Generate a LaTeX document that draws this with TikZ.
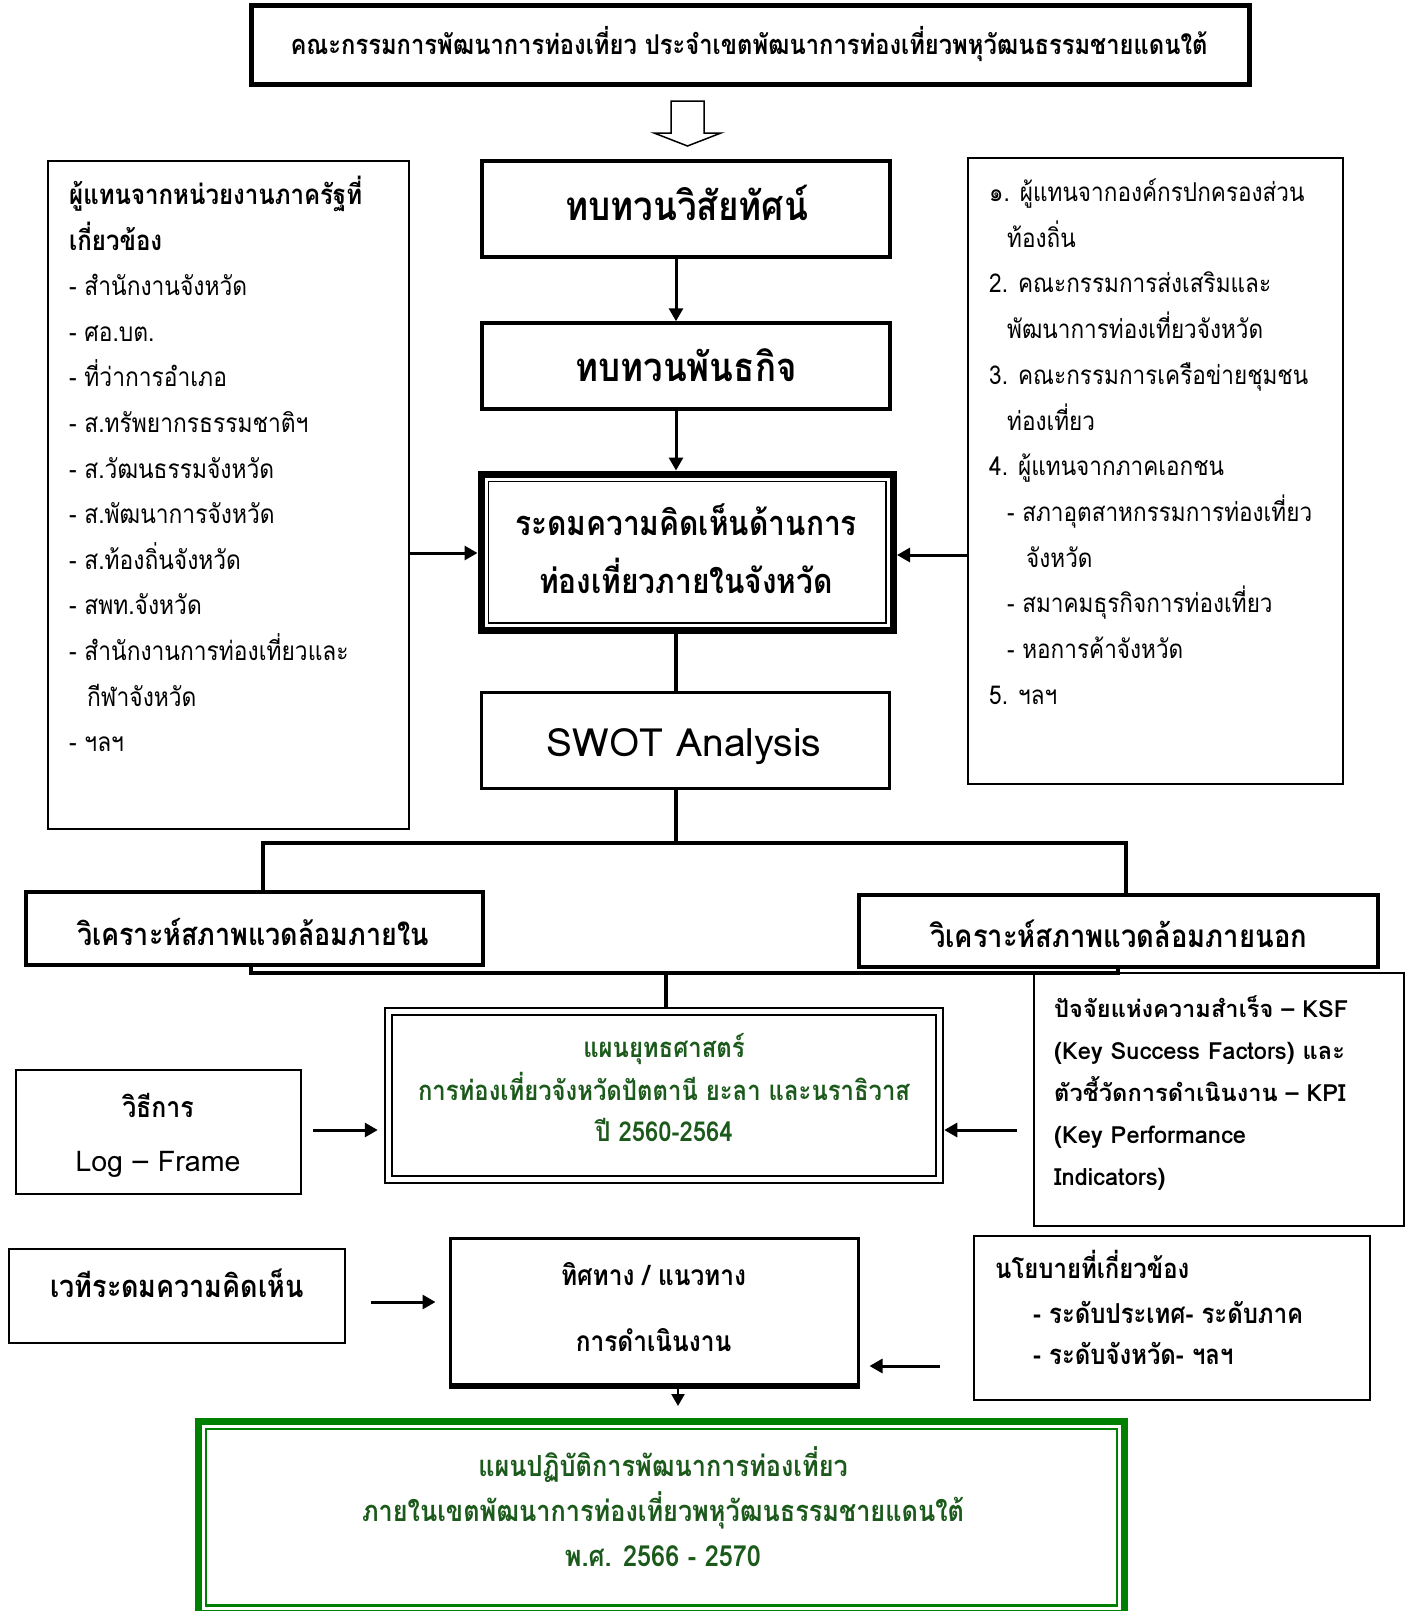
\documentclass[tikz,border=0pt]{standalone}
\usepackage{fontspec}
\setmainfont[Script=Thai, FakeStretch=0.87]{Loma}
\newfontfamily\latinf[Script=Thai]{Loma}
\usetikzlibrary{arrows.meta,calc}
\definecolor{gtext}{RGB}{28,90,28}
\definecolor{gline}{RGB}{0,128,0}
\newlength\fitlen
\newcommand\fitfs[3]{\settowidth\fitlen{\fontsize{10pt}{12pt}\selectfont #3}\pgfmathsetmacro#1{10*#2/\fitlen}}
\newcommand\setfs[1]{\fontsize{#1pt}{#1pt}\selectfont}
\begin{document}
% font sizes fitted to reference widths
\fitfs\fsTitle{917}{\bfseries คณะกรรมการพัฒนาการท่องเที่ยว ประจำเขตพัฒนาการท่องเที่ยวพหุวัฒนธรรมชายแดนใต้}%
\fitfs\fsVis{243}{\bfseries ทบทวนวิสัยทัศน์}%
\fitfs\fsMis{221}{\bfseries ทบทวนพันธกิจ}%
\fitfs\fsBrain{342}{\bfseries ระดมความคิดเห็นด้านการ}%
\fitfs\fsSwot{275}{\latinf SWOT Analysis}%
\fitfs\fsIn{352}{\bfseries วิเคราะห์สภาพแวดล้อมภายใน}%
\fitfs\fsOut{377}{\bfseries วิเคราะห์สภาพแวดล้อมภายนอก}%
\fitfs\fsPlan{492}{\bfseries การท่องเที่ยวจังหวัดปัตตานี ยะลา และนราธิวาส}%
\fitfs\fsLog{165}{\latinf Log – Frame}%
\fitfs\fsKsf{294}{\latinf\bfseries ปัจจัยแห่งความสำเร็จ – KSF}%
\fitfs\fsForum{253}{\bfseries เวทีระดมความคิดเห็น}%
\fitfs\fsDir{185}{\bfseries ทิศทาง / แนวทาง}%
\fitfs\fsPol{270}{\bfseries - ระดับประเทศ- ระดับภาค}%
\fitfs\fsFin{602}{\bfseries ภายในเขตพัฒนาการท่องเที่ยวพหุวัฒนธรรมชายแดนใต้}%
\fitfs\fsL{178}{- สำนักงานจังหวัด}%
\fitfs\fsLh{293}{\bfseries ผู้แทนจากหน่วยงานภาครัฐที่}%
\fitfs\fsR{282}{2. คณะกรรมการส่งเสริมและ}%
\begin{tikzpicture}[x=1pt,y=-1pt,
  box/.style={draw, line width=2.5pt, inner sep=0pt},
  arr/.style={line width=3pt, -{Triangle[length=13pt,width=14pt]}},
  ln/.style={line width=3.5pt},
  txt/.style={inner sep=0pt, anchor=base},
  ltxt/.style={inner sep=0pt, anchor=base west}]
\fill[white] (0,0) rectangle (1413,1611);
\useasboundingbox (0,0) rectangle (1413,1611);

% ---------- boxes ----------
\node[box, line width=5pt, minimum width=998pt, minimum height=78pt] (title) at (750,45) {};
\node[box, line width=3.5pt, minimum width=408pt, minimum height=96pt] (vis) at (686,209) {};
\node[box, line width=3.5pt, minimum width=408pt, minimum height=86pt] (mis) at (686,366) {};
\node[box, line width=7pt, minimum width=412.5pt, minimum height=156.5pt] (brain) at (687.25,552.25) {};
\node[box, line width=1.5pt, minimum width=397.5pt, minimum height=141.5pt] (brainIn) at (687.25,552.25) {};
\node[box, line width=3pt, minimum width=408pt, minimum height=96pt] (swot) at (685,740) {};
\node[box, line width=2pt, minimum width=361pt, minimum height=668pt] (left) at (228.5,495) {};
\node[box, line width=2pt, minimum width=375pt, minimum height=626pt] (right) at (1155.5,471) {};
\node[box, line width=3.5pt, minimum width=457pt, minimum height=73pt] (inA) at (254.5,928.5) {};
\node[box, line width=3.5pt, minimum width=519pt, minimum height=72pt] (outA) at (1118.5,931) {};
\node[box, line width=2.5pt, minimum width=558pt, minimum height=175pt] (plan) at (664,1095.5) {};
\node[box, line width=2pt, minimum width=544pt, minimum height=161pt] (planIn) at (664,1095.5) {};
\node[box, minimum width=285pt, minimum height=124pt] (log) at (158.5,1132) {};
\node[box, minimum width=370pt, minimum height=253pt] (ksf) at (1219,1099.5) {};
\node[box, minimum width=336pt, minimum height=94pt] (forum) at (177,1296) {};
\node[box, line width=3pt, minimum width=408pt, minimum height=146pt] (dir) at (654,1311) {};
\draw[line width=6pt] (dir.south west) -- (dir.south east);
\node[box, minimum width=396pt, minimum height=164pt] (pol) at (1172,1318) {};
\node[box, draw=gline, line width=7pt, minimum width=926pt, minimum height=191.5pt] (fin) at (661.5,1517.25) {};
\node[box, draw=gline, line width=2.5pt, minimum width=911pt, minimum height=176.5pt] (finIn) at (661.5,1517.25) {};

% ---------- hollow arrow ----------
\draw[line width=1.5pt, line join=miter] (671,101) -- (704,101) -- (704,133) -- (721,133) -- (687.5,146) -- (654,133) -- (671,133) -- cycle;

% ---------- connectors ----------
\coordinate (xA) at (676,0);
\draw[arr] (vis.south -| xA) -- (mis.north -| xA);
\draw[arr] (mis.south -| xA) -- (brain.north -| xA);
\draw[ln] (brain.south -| xA) -- (swot.north -| xA);
\coordinate (hub) at (676,843);
\draw[ln] (swot.south -| xA) -- (hub);
\coordinate (lx) at (263,843);
\coordinate (rx) at (1126,843);
\draw[ln] (inA.north -| lx) |- (rx) -- (outA.north -| rx);
\coordinate (bl) at (251,973);
\coordinate (br) at (1118,973);
\draw[ln] (inA.south -| bl) |- (br) -- (outA.south -| br);
\coordinate (bm) at (666,973);
\draw[ln] (bm) -- (plan.north -| bm);
\coordinate (yL) at (0,553);
\draw[arr] (left.east |- yL) -- (brain.west |- yL);
\coordinate (yR) at (0,555);
\draw[arr] (right.west |- yR) -- (brain.east |- yR);
\coordinate (yP) at (0,1130);
\draw[arr, shorten <=11pt, shorten >=6pt] (log.east |- yP) -- (plan.west |- yP);
\draw[arr, shorten <=16pt] (ksf.west |- yP) -- (plan.east |- yP);
\coordinate (yF) at (0,1302);
\draw[arr, shorten <=25pt, shorten >=13pt] (forum.east |- yF) -- (dir.west |- yF);
\coordinate (yQ) at (0,1366);
\draw[arr, shorten <=33pt, shorten >=10pt] (pol.west |- yQ) -- (dir.east |- yQ);
\coordinate (xD) at (678,0);
\draw[line width=2.5pt, -{Triangle[length=12pt,width=13pt]}, shorten >=12pt] (dir.south -| xD) -- (fin.north -| xD);

% ---------- texts ----------
\node[txt, font=\setfs{\fsTitle}\bfseries] (titleT) at (749,54.5) {คณะกรรมการพัฒนาการท่องเที่ยว ประจำเขตพัฒนาการท่องเที่ยวพหุวัฒนธรรมชายแดนใต้};
\node[txt, font=\setfs{\fsVis}\bfseries] (visT) at (686.5,220) {ทบทวนวิสัยทัศน์};
\node[txt, font=\setfs{\fsMis}\bfseries] (misT) at (686,381) {ทบทวนพันธกิจ};
\node[txt, font=\setfs{\fsBrain}\bfseries] (brainT1) at (686,535) {ระดมความคิดเห็นด้านการ};
\node[txt, font=\setfs{\fsBrain}\bfseries] (brainT2) at (686,593.5) {ท่องเที่ยวภายในจังหวัด};
\node[txt, font=\setfs{\fsSwot}\latinf] (swotT) at (684,756) {SWOT Analysis};
\node[txt, font=\setfs{\fsIn}\bfseries] (inT) at (253,945) {วิเคราะห์สภาพแวดล้อมภายใน};
\node[txt, font=\setfs{\fsOut}\bfseries] (outT) at (1118.5,947) {วิเคราะห์สภาพแวดล้อมภายนอก};
\node[txt, font=\setfs{\fsPlan}\bfseries, text=gtext] (planT1) at (664,1057.5) {แผนยุทธศาสตร์};
\node[txt, font=\setfs{\fsPlan}\bfseries, text=gtext] (planT2) at (664,1100.5) {การท่องเที่ยวจังหวัดปัตตานี ยะลา และนราธิวาส};
\node[txt, font=\setfs{\fsPlan}\bfseries, text=gtext] (planT3) at (664,1141.5) {ปี 2560-2564};
\node[txt, font=\setfs{\fsLog}\bfseries] (logT1) at (158,1117) {วิธีการ};
\node[txt, font=\setfs{\fsLog}\latinf] (logT2) at (158,1171) {Log – Frame};
\foreach \t [count=\i from 0] in {{ปัจจัยแห่งความสำเร็จ – KSF},{(Key Success Factors) และ},{ตัวชี้วัดการดำเนินงาน – KPI},{(Key Performance},{Indicators)}}
  \node[ltxt, font=\setfs{\fsKsf}\latinf\bfseries] (K\i) at (1054,{1017+42.1*\i}) {\t};
\node[txt, font=\setfs{\fsForum}\bfseries] (forumT) at (177,1297) {เวทีระดมความคิดเห็น};
\node[txt, font=\setfs{\fsDir}\bfseries] (dirT1) at (653.5,1285) {ทิศทาง / แนวทาง};
\node[txt, font=\setfs{\fsDir}\bfseries] (dirT2) at (653.5,1351.5) {การดำเนินงาน};
\node[ltxt, font=\setfs{\fsPol}\bfseries] (polT1) at (995,1278.5) {นโยบายที่เกี่ยวข้อง};
\node[ltxt, font=\setfs{\fsPol}\bfseries] (polT2) at (1033,1323) {- ระดับประเทศ- ระดับภาค};
\node[ltxt, font=\setfs{\fsPol}\bfseries] (polT3) at (1033,1364) {- ระดับจังหวัด- ฯลฯ};
\node[txt, font=\setfs{\fsFin}\bfseries, text=gtext] (finT1) at (663,1476.2) {แผนปฏิบัติการพัฒนาการท่องเที่ยว};
\node[txt, font=\setfs{\fsFin}\bfseries, text=gtext] (finT2) at (663,1521.5) {ภายในเขตพัฒนาการท่องเที่ยวพหุวัฒนธรรมชายแดนใต้};
\node[txt, font=\setfs{\fsFin}\bfseries, text=gtext] (finT3) at (663,1566.5) {พ.ศ. 2566 - 2570};
% left list
\node[ltxt, font=\setfs{\fsLh}\bfseries] (LH0) at (69,204.5) {ผู้แทนจากหน่วยงานภาครัฐที่};
\node[ltxt, font=\setfs{\fsLh}\bfseries] (LH1) at (69,250.1) {เกี่ยวข้อง};
\foreach \xo/\t [count=\i from 2] in {69/{- สำนักงานจังหวัด},69/{- ศอ.บต.},69/{- ที่ว่าการอำเภอ},69/{- ส.ทรัพยากรธรรมชาติฯ},69/{- ส.วัฒนธรรมจังหวัด},69/{- ส.พัฒนาการจังหวัด},69/{- ส.ท้องถิ่นจังหวัด},69/{- สพท.จังหวัด},69/{- สำนักงานการท่องเที่ยวและ},87/{กีฬาจังหวัด},69/{- ฯลฯ}}
  \node[ltxt, font=\setfs{\fsL}] (L\i) at (\xo,{204.5+45.6*\i}) {\t};
% right list
\foreach \xo/\t [count=\i from 0] in {989/{๑. ผู้แทนจากองค์กรปกครองส่วน},1007/{ท้องถิ่น},989/{2. คณะกรรมการส่งเสริมและ},1007/{พัฒนาการท่องเที่ยวจังหวัด},989/{3. คณะกรรมการเครือข่ายชุมชน},1007/{ท่องเที่ยว},989/{4. ผู้แทนจากภาคเอกชน},1007/{- สภาอุตสาหกรรมการท่องเที่ยว},1026/{จังหวัด},1007/{- สมาคมธุรกิจการท่องเที่ยว},1007/{- หอการค้าจังหวัด},989/{5. ฯลฯ}}
  \node[ltxt, font=\setfs{\fsR}] (R\i) at (\xo,{201.5+45.7*\i}) {\t};
\end{tikzpicture}
\end{document}
